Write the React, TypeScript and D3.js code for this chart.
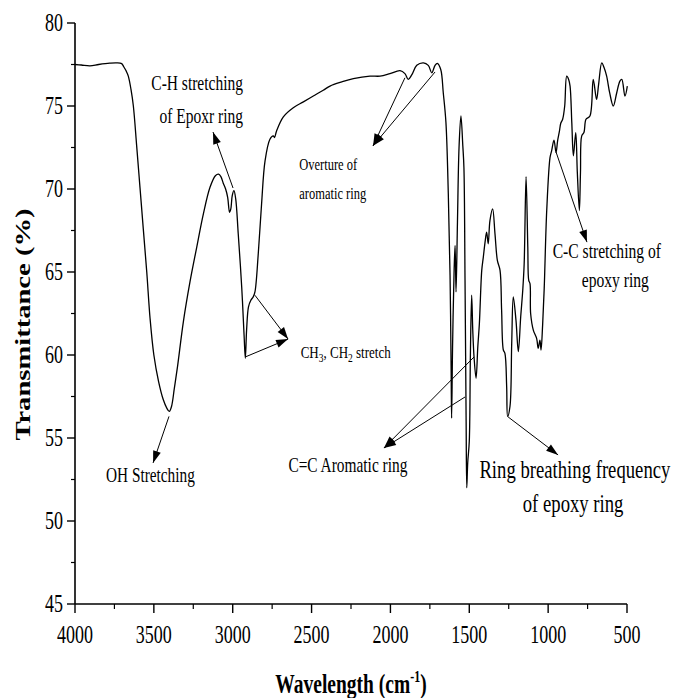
import React from 'react';
import * as d3 from 'd3';

// FTIR spectrum: [wavenumber (cm-1), transmittance (%)]
const spectrum: [number, number][] = [
  [4000, 77.5], [3960, 77.47], [3905, 77.42], [3850, 77.5], [3780, 77.58], [3736, 77.6],
  [3704, 77.55], [3690, 77.35], [3675, 77.1], [3662, 76.8], [3645, 76.0], [3630, 75.0],
  [3609, 72.6], [3588, 70.1], [3567, 67.6], [3545, 65.0], [3524, 62.2], [3500, 60.0],
  [3470, 58.4], [3440, 57.3], [3418, 56.8], [3402, 56.6], [3388, 56.9], [3370, 58.0],
  [3350, 59.3], [3313, 62.0], [3271, 64.4], [3228, 66.5], [3186, 68.5], [3144, 70.1],
  [3110, 70.8], [3090, 70.9], [3075, 70.75], [3060, 70.35], [3045, 70.0], [3032, 69.5],
  [3020, 68.6], [3012, 68.8], [3003, 69.6], [2992, 69.9], [2981, 69.4], [2965, 67.3],
  [2943, 64.1], [2928, 61.2], [2920, 59.8], [2912, 61.5], [2900, 62.9], [2885, 63.3],
  [2870, 63.5], [2859, 63.8], [2838, 66.1], [2817, 69.1], [2795, 71.7], [2764, 73.0],
  [2743, 73.2], [2735, 73.1], [2722, 73.5], [2679, 74.35], [2616, 74.9], [2552, 75.25],
  [2489, 75.6], [2426, 75.95], [2383, 76.2], [2309, 76.45], [2235, 76.65], [2130, 76.8],
  [2066, 76.8], [2003, 76.95], [1939, 77.13], [1908, 76.95], [1887, 76.6], [1865, 76.87],
  [1833, 77.45], [1791, 77.6], [1760, 77.45], [1738, 77.0], [1717, 77.45], [1703, 77.57],
  [1681, 77.2], [1665, 75.8], [1648, 74.0], [1633, 69.7], [1622, 64.8], [1615, 59.0],
  [1612, 56.2], [1606, 60.5], [1596, 65.2], [1590, 66.6], [1584, 63.8], [1575, 68.0],
  [1565, 72.5], [1553, 74.4], [1541, 72.6], [1534, 71.3], [1527, 64.5], [1520, 56.0],
  [1516, 52.0], [1510, 53.5], [1500, 54.8], [1493, 60.0], [1485, 63.6], [1478, 61.5],
  [1470, 59.9], [1457, 58.6], [1446, 60.5], [1436, 61.9], [1421, 65.1], [1411, 65.9],
  [1400, 66.8], [1390, 67.4], [1380, 66.7], [1369, 68.1], [1352, 68.8], [1337, 67.3],
  [1322, 65.7], [1305, 65.1], [1295, 62.7], [1284, 60.3], [1274, 60.1], [1263, 58.1],
  [1257, 56.3], [1242, 56.9], [1231, 60.7], [1221, 63.5], [1204, 62.1], [1189, 60.2],
  [1174, 62.3], [1161, 63.9], [1152, 65.5], [1140, 70.75], [1129, 66.5], [1123, 64.5],
  [1115, 64.3], [1111, 62.5], [1094, 61.5], [1073, 61.0], [1063, 60.4], [1052, 60.9],
  [1045, 60.3], [1035, 61.8], [1025, 64.0], [1009, 68.7], [988, 71.9], [978, 72.3],
  [963, 72.95], [950, 72.2], [940, 72.9], [929, 73.45], [920, 73.96], [908, 74.2],
  [895, 75.0], [882, 76.8], [870, 76.6], [861, 76.2], [850, 74.0], [840, 72.0],
  [825, 73.4], [815, 71.0], [802, 68.7], [795, 71.0], [787, 73.2], [773, 73.4],
  [760, 74.2], [735, 74.4], [714, 76.6], [693, 75.4], [680, 76.3], [660, 77.6],
  [645, 77.3], [629, 76.8], [610, 75.8], [587, 75.0], [565, 75.8], [545, 76.5],
  [533, 76.6], [513, 75.6], [498, 76.2],
];

const xTicks = [4000, 3500, 3000, 2500, 2000, 1500, 1000, 500];
const yTicks = [45, 50, 55, 60, 65, 70, 75, 80];

// annotation arrows, tail -> head, in data units
const arrows: { from: [number, number]; to: [number, number] }[] = [
  { from: [2998, 70.06], to: [3125, 73.43] },
  { from: [3404, 56.3], to: [3505, 53.5] },
  { from: [2859, 63.6], to: [2649, 60.96] },
  { from: [2916, 59.9], to: [2649, 60.96] },
  { from: [1908, 76.7], to: [2110, 72.6] },
  { from: [1717, 77.05], to: [2110, 72.6] },
  { from: [1470, 59.88], to: [2041, 54.4] },
  { from: [1527, 57.47], to: [2041, 54.4] },
  { from: [1254, 56.27], to: [937, 53.98] },
  { from: [950, 72.23], to: [754, 66.8] },
];

// plain text labels, anchored in data units
const labels: { text: string; at: [number, number]; anchor: string; size: number }[] = [
  { text: 'C-H stretching', at: [2935, 75.96], anchor: 'end', size: 15.5 },
  { text: 'of Epoxr ring', at: [2935, 73.98], anchor: 'end', size: 15.5 },
  { text: 'OH Stretching', at: [3803, 52.32], anchor: 'start', size: 15.3 },
  { text: 'Overture of', at: [2578, 71.14], anchor: 'start', size: 12.5 },
  { text: 'aromatic ring', at: [2578, 69.4], anchor: 'start', size: 12.5 },
  { text: 'C=C Aromatic ring', at: [2647, 52.97], anchor: 'start', size: 15.4 },
  { text: 'Ring breathing frequency', at: [1436, 52.57], anchor: 'start', size: 18.7 },
  { text: 'of epoxy ring', at: [1161, 50.56], anchor: 'start', size: 18.7 },
  { text: 'C-C stretching of', at: [971, 65.83], anchor: 'start', size: 15.6 },
  { text: 'epoxy ring', at: [787, 64.07], anchor: 'start', size: 15.6 },
];

const FONT = '"Liberation Serif", "Times New Roman", serif';
const SY = 1.35; // the original figure is stretched vertically

const App: React.FC = () => {
  React.useEffect(() => {
    document.body.style.margin = '0';
  }, []);

  const width = 673;
  const height = 698;
  const x = d3.scaleLinear().domain([4000, 500]).range([75, 627]);
  const y = d3.scaleLinear().domain([45, 80]).range([604, 23]);

  const line = d3
    .line<[number, number]>()
    .x(d => x(d[0]))
    .y(d => y(d[1]))
    .curve(d3.curveCatmullRom.alpha(0.5));

  const xMinor = d3.range(4000, 499, -250).filter(v => !xTicks.includes(v));
  const yMinor = d3.range(45, 80.1, 2.5).filter(v => !yTicks.includes(v));

  const head = (a: [number, number], b: [number, number]) => {
    const x1 = x(a[0]), y1 = y(a[1]), x2 = x(b[0]), y2 = y(b[1]);
    const len = Math.hypot(x2 - x1, y2 - y1);
    const ux = (x2 - x1) / len, uy = (y2 - y1) / len;
    const L = 12, hw = 4;
    const bx = x2 - ux * L, by = y2 - uy * L;
    return `${x2},${y2} ${bx - uy * hw},${by + ux * hw} ${bx + uy * hw},${by - ux * hw}`;
  };

  return (
    <svg width={width} height={height} style={{ display: 'block', background: '#fff' }} fontFamily={FONT}>
      {/* axes */}
      <line x1={75} x2={75} y1={23} y2={604} stroke="#000" strokeWidth={1.6} />
      <line x1={75} x2={627} y1={604} y2={604} stroke="#000" strokeWidth={1.6} />
      {yTicks.map(t => (
        <g key={'y' + t}>
          <line x1={67} x2={75} y1={y(t)} y2={y(t)} stroke="#000" strokeWidth={1.4} />
          <text transform={`translate(63,${y(t) + 7.5}) scale(1,${SY})`} textAnchor="end" fontSize={18}>
            {t}
          </text>
        </g>
      ))}
      {yMinor.map(t => (
        <line key={'ym' + t} x1={71} x2={75} y1={y(t)} y2={y(t)} stroke="#000" strokeWidth={1.2} />
      ))}
      {xTicks.map(t => (
        <g key={'x' + t}>
          <line x1={x(t)} x2={x(t)} y1={604} y2={613} stroke="#000" strokeWidth={1.4} />
          <text transform={`translate(${x(t)},642.5) scale(1,${SY})`} textAnchor="middle" fontSize={18}>
            {t}
          </text>
        </g>
      ))}
      {xMinor.map(t => (
        <line key={'xm' + t} x1={x(t)} x2={x(t)} y1={604} y2={609} stroke="#000" strokeWidth={1.2} />
      ))}

      {/* axis titles */}
      <text
        transform={`translate(351,693) scale(1,${SY})`}
        textAnchor="middle"
        fontSize={19.5}
        fontWeight="bold"
      >
        Wavelength (cm<tspan dy={-8} fontSize={12}>-1</tspan><tspan dy={8}>)</tspan>
      </text>
      <text
        transform={`translate(30,324.5) scale(1,1.43) rotate(-90)`}
        textAnchor="middle"
        fontSize={20}
        fontWeight="bold"
      >
        Transmittance (%)
      </text>

      {/* spectrum */}
      <path d={line(spectrum) ?? ''} fill="none" stroke="#000" strokeWidth={1.3} strokeLinejoin="round" />

      {/* annotations */}
      {arrows.map((a, i) => (
        <g key={'a' + i}>
          <line x1={x(a.from[0])} y1={y(a.from[1])} x2={x(a.to[0])} y2={y(a.to[1])} stroke="#000" strokeWidth={1} />
          <polygon points={head(a.from, a.to)} fill="#000" />
        </g>
      ))}
      {labels.map((l, i) => (
        <text
          key={'l' + i}
          transform={`translate(${x(l.at[0])},${y(l.at[1])}) scale(1,${SY})`}
          textAnchor={l.anchor}
          fontSize={l.size}
        >
          {l.text}
        </text>
      ))}
      <text transform={`translate(${x(2569)},${y(59.8)}) scale(1,${SY})`} fontSize={13}>
        CH<tspan dy={3} fontSize={9.5}>3</tspan>
        <tspan dy={-3}>, CH</tspan>
        <tspan dy={3} fontSize={9.5}>2</tspan>
        <tspan dy={-3}> stretch</tspan>
      </text>
    </svg>
  );
};

export default App;
